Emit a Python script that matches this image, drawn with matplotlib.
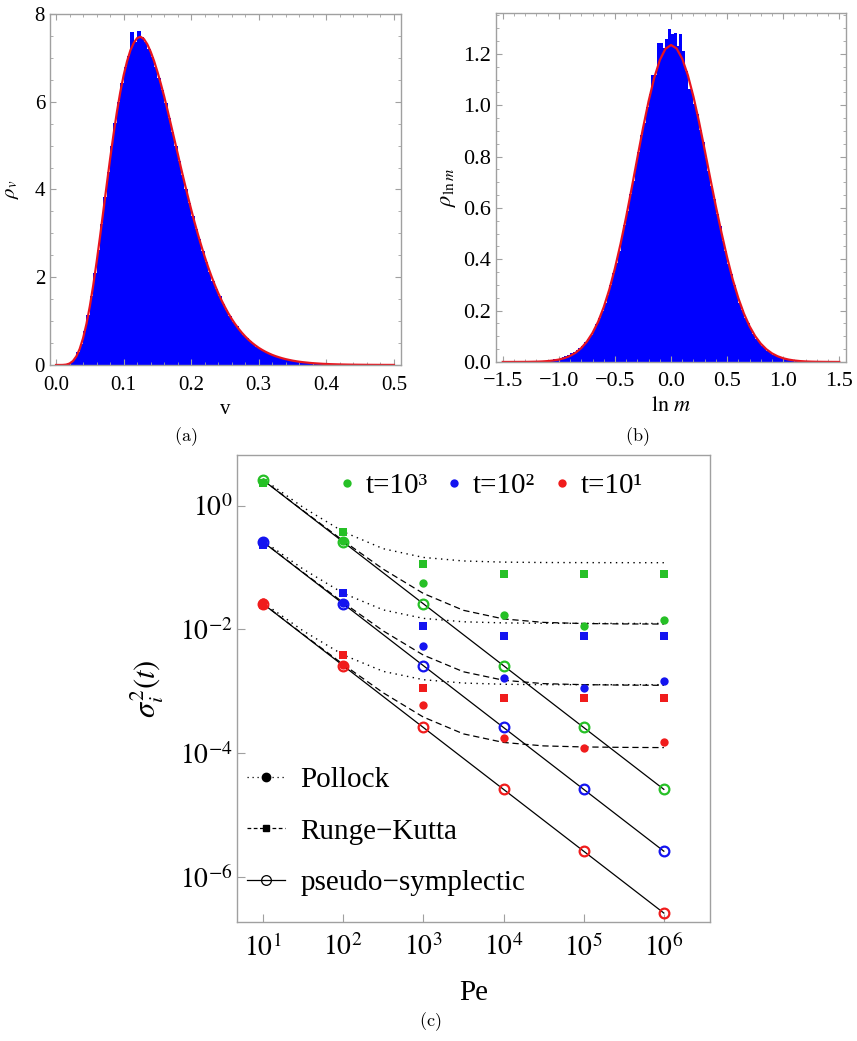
import numpy as np
import matplotlib
matplotlib.use("Agg")
import matplotlib.pyplot as plt
from matplotlib.lines import Line2D
from matplotlib.ticker import MultipleLocator, FixedLocator, NullLocator

plt.rcParams['font.family'] = ['Liberation Serif', 'DejaVu Serif']
plt.rcParams['mathtext.fontset'] = 'stix'

# ---- panel (a): histogram of v, bins of 0.005 starting at 0.010
v_bin_start = 0.010
v_bin_width = 0.005
hist_v = [0.004, 0.02, 0.06, 0.14, 0.30, 0.48, 0.77, 1.14, 1.58, 2.10,
          2.63, 3.22, 3.83, 4.40, 4.99, 5.52, 6.00, 6.42, 6.78, 7.05,
          7.58, 7.36, 7.62, 7.47, 7.35, 7.21, 7.03, 6.80, 6.55, 6.27,
          5.96, 5.64, 5.31, 4.99, 4.65, 4.32, 4.00, 3.69, 3.40, 3.11,
          2.86, 2.59, 2.35, 2.13, 1.92, 1.73, 1.57, 1.40, 1.25, 1.11,
          0.99, 0.88, 0.78, 0.69, 0.61, 0.54, 0.48, 0.42, 0.37, 0.32,
          0.28, 0.25, 0.21, 0.19, 0.16, 0.14, 0.12, 0.11, 0.092, 0.080,
          0.069, 0.060, 0.052, 0.044, 0.038, 0.033, 0.028, 0.024, 0.021, 0.018,
          0.015, 0.013, 0.011, 0.010, 0.008, 0.007, 0.006, 0.005]
# fitted density, sampled every 0.005 from 0 to 0.5
v_fit = np.linspace(0.0, 0.5, 101)
rho_v_fit = [0.0, 0.00003, 0.0011, 0.0084, 0.033, 0.090, 0.196, 0.366, 0.612, 0.936,
             1.339, 1.812, 2.342, 2.915, 3.511, 4.109, 4.697, 5.250, 5.761, 6.214,
             6.601, 6.917, 7.17, 7.34, 7.45, 7.48, 7.43, 7.31, 7.14, 6.93,
             6.683, 6.411, 6.120, 5.804, 5.477, 5.148, 4.819, 4.484, 4.160, 3.846,
             3.541, 3.250, 2.973, 2.713, 2.466, 2.233, 2.019, 1.821, 1.638, 1.470,
             1.317, 1.176, 1.048, 0.932, 0.828, 0.734, 0.649, 0.573, 0.505, 0.445,
             0.390, 0.343, 0.300, 0.263, 0.229, 0.200, 0.175, 0.152, 0.132, 0.115,
             0.099, 0.086, 0.074, 0.064, 0.056, 0.048, 0.041, 0.036, 0.031, 0.026,
             0.023, 0.019, 0.0166, 0.0142, 0.0122, 0.0104, 0.0089, 0.0076, 0.0065, 0.0055,
             0.0047, 0.0040, 0.0034, 0.0029, 0.0025, 0.0021, 0.0018, 0.0015, 0.0013, 0.0011,
             0.0009]

# ---- panel (b): histogram of ln m, bins of 0.025 starting at -1.15
lnm_bin_start = -1.15
lnm_bin_width = 0.025
hist_lnm = [0.004, 0.005, 0.007, 0.008, 0.011, 0.013, 0.016, 0.019, 0.024, 0.028,
            0.035, 0.040, 0.047, 0.054, 0.064, 0.076, 0.090, 0.106, 0.124, 0.146,
            0.170, 0.197, 0.231, 0.262, 0.300, 0.345, 0.386, 0.432, 0.488, 0.535,
            0.590, 0.655, 0.705, 0.770, 0.820, 0.885, 0.930, 0.995, 1.045, 1.120,
            1.120, 1.243, 1.243, 1.224, 1.260, 1.298,
            1.276, 1.282, 1.230, 1.276, 1.210, 1.135, 1.064, 1.060, 1.005, 0.965,
            0.905, 0.858, 0.795, 0.745, 0.685, 0.636, 0.575, 0.530, 0.472, 0.432,
            0.380, 0.343, 0.300, 0.268, 0.230, 0.204, 0.172, 0.152, 0.127, 0.110,
            0.090, 0.079, 0.063, 0.055, 0.044, 0.037, 0.029, 0.025, 0.019, 0.016,
            0.012, 0.010, 0.008, 0.006, 0.005, 0.004, 0.003]
lnm_fit = np.linspace(-1.5, 1.5, 61)
rho_lnm_fit = [0.0, 0.0, 0.0001, 0.0002, 0.0003, 0.0006, 0.0011, 0.0019, 0.0034, 0.0057,
               0.0093, 0.0150, 0.0236, 0.0362, 0.0543, 0.0794, 0.1131, 0.1568, 0.2133, 0.2825,
               0.3650, 0.4599, 0.5653, 0.6788, 0.7955, 0.9106, 1.0159, 1.1065, 1.1762, 1.2200,
               1.2350,
               1.2213, 1.1812, 1.1172, 1.0333, 0.9348, 0.8262, 0.7147, 0.6056, 0.5034, 0.4074,
               0.3212, 0.2487, 0.1882, 0.1393, 0.1007, 0.0713, 0.0495, 0.0335, 0.0222, 0.0143,
               0.0091, 0.0056, 0.0034, 0.0020, 0.0012, 0.0007, 0.0004, 0.0002, 0.0001, 0.0]

# ---- panel (c): variance vs Peclet number
Pe = [1e1, 1e2, 1e3, 1e4, 1e5, 1e6]
times = ['t=10\u00b3', 't=10\u00b2', 't=10\u00b9']
colors = ['#26c026', '#1414f0', '#f01c1c']

pollock = [[2.45, 0.27, 0.057, 0.017, 0.0113, 0.0143],
           [0.27, 0.027, 0.0055, 0.00164, 0.00115, 0.00145],
           [0.028, 0.0027, 0.00061, 0.000173, 0.000122, 0.000154]]
runge_kutta = [[2.35, 0.38, 0.115, 0.078, 0.078, 0.078],
               [0.235, 0.0385, 0.0113, 0.0078, 0.0078, 0.0078],
               [0.0244, 0.0038, 0.00113, 0.00079, 0.00079, 0.00079]]
pseudo_sympl = [[2.6, 0.26, 0.026, 0.0026, 2.6e-4, 2.6e-5],
                [0.26, 0.026, 0.0026, 2.6e-4, 2.6e-5, 2.6e-6],
                [0.026, 0.0026, 2.6e-4, 2.6e-5, 2.6e-6, 2.6e-7]]

Pe_curve = [1e1, 3.16e1, 1e2, 3.16e2, 1e3, 3.16e3, 1e4, 3.16e4, 1e5, 3.16e5, 1e6]
dotted_curves = [[2.72, 0.942, 0.38, 0.202, 0.146, 0.128, 0.1226, 0.1208, 0.1203, 0.1201, 0.12],
                 [0.2725, 0.0947, 0.0385, 0.0207, 0.0151, 0.0133, 0.01276, 0.01258, 0.01253, 0.01251, 0.0125],
                 [0.02728, 0.0095, 0.00388, 0.0021, 0.00154, 0.00136, 0.0013, 0.00128, 0.00128, 0.00128, 0.00128]]
dashed_curves = [[2.612, 0.834, 0.272, 0.0944, 0.0382, 0.0204, 0.0148, 0.013, 0.01246, 0.01228, 0.01223],
                 [0.26125, 0.0835, 0.02725, 0.00947, 0.00385, 0.00207, 0.00151, 0.00133, 0.00128, 0.00126, 0.00125],
                 [0.026123, 0.00834, 0.002723, 0.000945, 0.000383, 0.000205, 0.000149, 0.000131, 0.000126, 0.000124, 0.000123]]

frame_col = '#a0a0a0'

fig = plt.figure(figsize=(8.57, 10.41), dpi=100)


def frame_style(ax, size):
    for s in ax.spines.values():
        s.set_color(frame_col)
        s.set_linewidth(1.0)
    ax.tick_params(which='both', direction='in', top=True, right=True,
                   color=frame_col, labelsize=size)
    ax.tick_params(which='major', length=4, width=0.8)
    ax.tick_params(which='minor', length=2, width=0.6)


# (a)
ax1 = fig.add_axes([0.0583, 0.6494, 0.4096, 0.3372])
edges_v = v_bin_start + v_bin_width * np.arange(len(hist_v) + 1)
ax1.stairs(hist_v, edges_v, fill=True, color='#0000ff', lw=0)
ax1.plot(v_fit, rho_v_fit, color='#e8141e', lw=1.6)
ax1.set_xlim(-0.009, 0.5104)
ax1.set_ylim(0, 8)
ax1.xaxis.set_minor_locator(MultipleLocator(0.02))
ax1.yaxis.set_minor_locator(MultipleLocator(0.5))
ax1.set_xticks([0, 0.1, 0.2, 0.3, 0.4, 0.5], ['0.0', '0.1', '0.2', '0.3', '0.4', '0.5'])
ax1.set_yticks([0, 2, 4, 6, 8], ['0', '2', '4', '6', '8'])
frame_style(ax1, 15)
ax1.tick_params(axis='x', pad=8)
ax1.set_xlabel('v', fontsize=15)
ax1.set_ylabel(r'$\rho_v$', fontsize=15)
ax1.xaxis.set_label_coords(0.5, -0.1)
ax1.yaxis.set_label_coords(-0.082, 0.5)

# (b)
ax2 = fig.add_axes([0.5788, 0.6523, 0.4084, 0.3353])
edges_m = lnm_bin_start + lnm_bin_width * np.arange(len(hist_lnm) + 1)
ax2.stairs(hist_lnm, edges_m, fill=True, color='#0000ff', lw=0)
ax2.plot(lnm_fit, rho_lnm_fit, color='#e8141e', lw=1.6)
ax2.set_xlim(-1.56, 1.56)
ax2.set_ylim(0, 1.36)
ax2.xaxis.set_minor_locator(MultipleLocator(0.1))
ax2.yaxis.set_minor_locator(MultipleLocator(0.05))
ax2.set_xticks([-1.5, -1.0, -0.5, 0, 0.5, 1.0, 1.5],
               ['\u22121.5', '\u22121.0', '\u22120.5', '0.0', '0.5', '1.0', '1.5'])
ax2.set_yticks([0, 0.2, 0.4, 0.6, 0.8, 1.0, 1.2],
               ['0.0', '0.2', '0.4', '0.6', '0.8', '1.0', '1.2'])
frame_style(ax2, 16)
ax2.tick_params(axis='x', pad=7)
ax2.set_xlabel(r'$\ln\,m$', fontsize=16)
ax2.set_ylabel(r'$\rho_{\ln m}$', fontsize=16)
ax2.xaxis.set_label_coords(0.5, -0.1)
ax2.yaxis.set_label_coords(-0.11, 0.5)

# (c)
ax3 = fig.add_axes([0.2765, 0.1143, 0.5519, 0.4486])
ax3.set_xscale('log')
ax3.set_yscale('log')
for i in range(3):
    ax3.plot(Pe_curve, dotted_curves[i], color='k', lw=1.0, ls=(0, (1, 3.2)))
    ax3.plot(Pe_curve, dashed_curves[i], color='k', lw=0.9, ls=(0, (5, 3)))
    ax3.plot(Pe, pseudo_sympl[i], color='k', lw=0.9, ls='-')
for i in range(3):
    ax3.plot(Pe, runge_kutta[i], ls='none', marker='s', ms=5.5, color=colors[i], mew=0)
    ax3.plot(Pe, pollock[i], ls='none', marker='o', ms=6, color=colors[i], mew=0)
    ax3.plot(Pe, pseudo_sympl[i], ls='none', marker='o', ms=7, mfc='none',
             mec=colors[i], mew=1.6)
ax3.set_xlim(10 ** 0.675, 10 ** 6.575)
ax3.set_ylim(10 ** -6.73, 10 ** 0.82)
ax3.xaxis.set_major_locator(FixedLocator(Pe))
ax3.xaxis.set_minor_locator(NullLocator())
ax3.set_xticklabels([r'$10^{%d}$' % k for k in range(1, 7)])
ax3.yaxis.set_major_locator(FixedLocator([1e0, 1e-2, 1e-4, 1e-6]))
ax3.yaxis.set_minor_locator(NullLocator())
ax3.set_yticklabels([r'$10^{0}$', r'$10^{-2}$', r'$10^{-4}$', r'$10^{-6}$'])
for s in ax3.spines.values():
    s.set_color(frame_col)
    s.set_linewidth(1.0)
ax3.tick_params(which='major', direction='in', length=6, width=0.8,
                color=frame_col, labelsize=20)
ax3.tick_params(axis='x', pad=9)
ax3.tick_params(axis='y', pad=3)
ax3.set_xlabel('Pe', fontsize=21)
ax3.set_ylabel(r'$\sigma_i^2(t)$', fontsize=22)
ax3.xaxis.set_label_coords(0.5, -0.125)
ax3.yaxis.set_label_coords(-0.15, 0.5)

t_handles = [Line2D([], [], ls='none', marker='o', ms=6, color=c, mew=0) for c in colors]
leg1 = ax3.legend(t_handles, times, loc='upper right', ncol=3, frameon=False,
                  fontsize=21, handlelength=0.6, handletextpad=0.35,
                  columnspacing=0.6, bbox_to_anchor=(0.895, 1.0), borderaxespad=0.2)
ax3.add_artist(leg1)

m_handles = [Line2D([], [], color='k', lw=0.9, ls=(0, (1, 3)), marker='o', ms=6),
             Line2D([], [], color='k', lw=0.9, ls=(0, (3, 2)), marker='s', ms=5),
             Line2D([], [], color='k', lw=0.9, ls='-', marker='o', ms=7, mfc='none', mew=0.9)]
ax3.legend(m_handles, ['Pollock', 'Runge\u2212Kutta', 'pseudo\u2212symplectic'],
           loc='lower left', frameon=False, fontsize=21, handlelength=1.3,
           handletextpad=0.55, labelspacing=0.85, numpoints=1,
           bbox_to_anchor=(-0.035, 0.0))

fig.text(186 / 857, 1 - 437 / 1041, r'$\mathrm{(a)}$', fontsize=13, math_fontfamily='cm',
         ha='center', va='center')
fig.text(637 / 857, 1 - 437 / 1041, r'$\mathrm{(b)}$', fontsize=13, math_fontfamily='cm',
         ha='center', va='center')
fig.text(430 / 857, 1 - 1022 / 1041, r'$\mathrm{(c)}$', fontsize=13, math_fontfamily='cm',
         ha='center', va='center')

fig.savefig('out.png', dpi=100)
